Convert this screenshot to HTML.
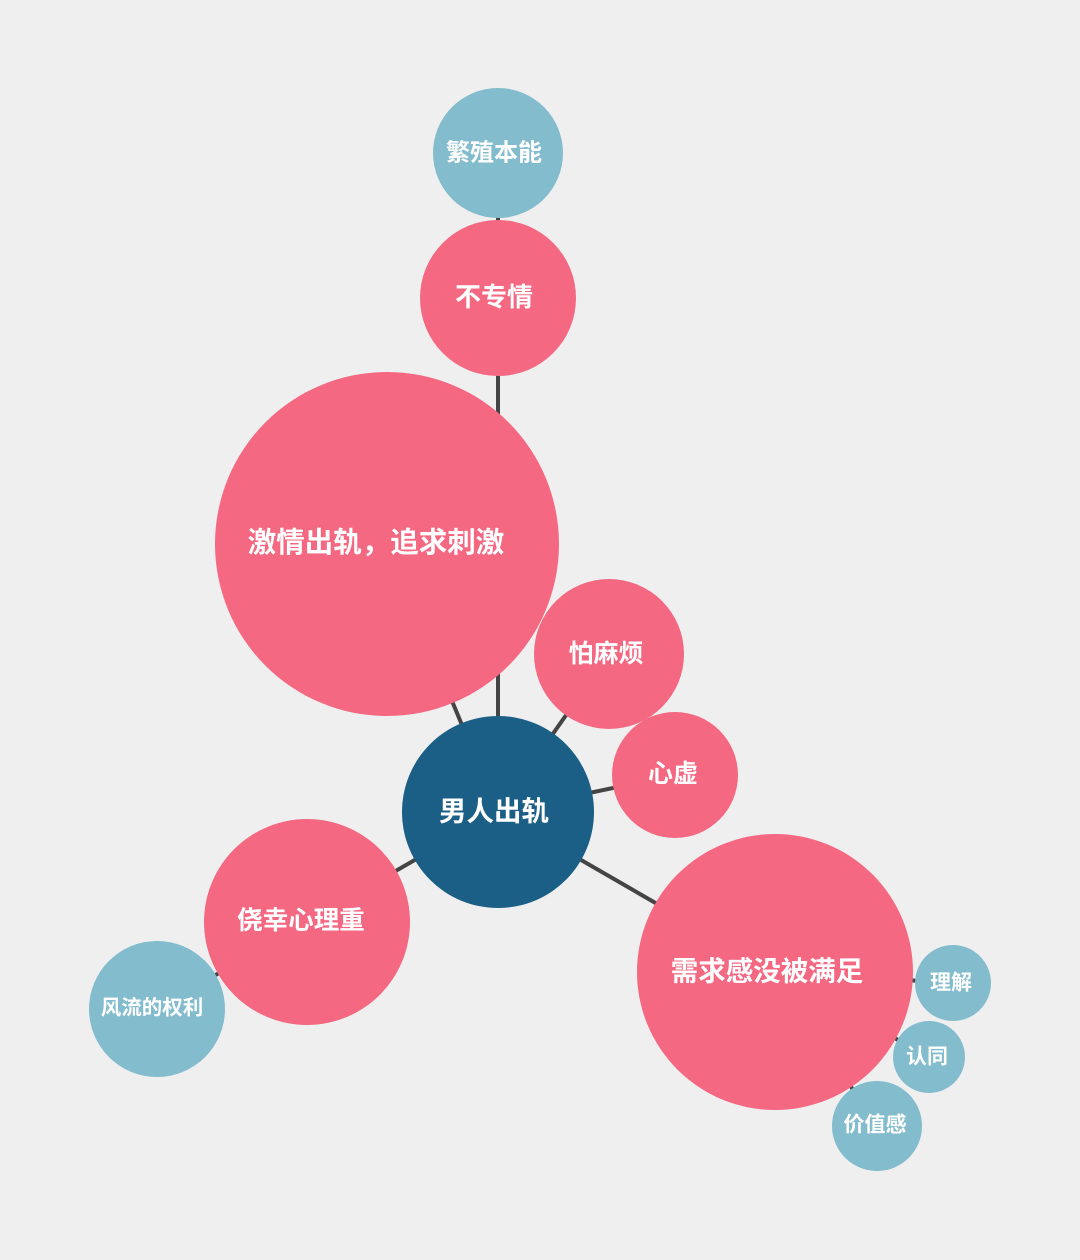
<!DOCTYPE html>
<html><head><meta charset="utf-8"><style>
html,body{margin:0;padding:0;background:#efefef;}
svg{display:block;}
text{font-family:"Liberation Sans","Noto Sans CJK SC",sans-serif;fill:#fff;font-weight:bold;text-anchor:middle;dominant-baseline:central;}
</style></head><body>
<svg width="1080" height="1260" viewBox="0 0 1080 1260">
<rect width="1080" height="1260" fill="#efefef"/>
<g stroke="#444" stroke-width="4">
<line x1="498" y1="812" x2="498" y2="298"/>
<line x1="498" y1="298" x2="498" y2="153"/>
<line x1="498" y1="812" x2="387" y2="544"/>
<line x1="498" y1="812" x2="609" y2="654"/>
<line x1="498" y1="812" x2="675" y2="775"/>
<line x1="498" y1="812" x2="307" y2="922"/>
<line x1="498" y1="812" x2="775" y2="972"/>
<line x1="307" y1="922" x2="157" y2="1009"/>
<line x1="775" y1="972" x2="953" y2="983"/>
<line x1="775" y1="972" x2="929" y2="1057"/>
<line x1="775" y1="972" x2="877" y2="1126"/>
</g>
<g fill="#82bccd">
<circle cx="498" cy="153" r="65"/>
<circle cx="157" cy="1009" r="68"/>
<circle cx="953" cy="983" r="38"/>
<circle cx="929" cy="1057" r="36"/>
<circle cx="877" cy="1126" r="45"/>
</g>
<g fill="#f46882">
<circle cx="498" cy="298" r="78"/>
<circle cx="387" cy="544" r="172"/>
<circle cx="609" cy="654" r="75"/>
<circle cx="675" cy="775" r="63"/>
<circle cx="307" cy="922" r="103"/>
<circle cx="775" cy="972" r="138"/>
</g>
<circle cx="498" cy="812" r="96" fill="#1b5f87"/>
<text x="494" y="153" font-size="24">繁殖本能</text>
<text x="494" y="297" font-size="26">不专情</text>
<text x="376" y="543" font-size="28.5">激情出轨，追求刺激</text>
<text x="606" y="654" font-size="25">怕麻烦</text>
<text x="673" y="774" font-size="25">心虚</text>
<text x="494" y="811" font-size="27.5">男人出轨</text>
<text x="301" y="921" font-size="25.5">侥幸心理重</text>
<text x="152" y="1008" font-size="20.5">风流的权利</text>
<text x="767" y="971" font-size="27.5">需求感没被满足</text>
<text x="951" y="983" font-size="21">理解</text>
<text x="927" y="1057" font-size="21">认同</text>
<text x="875" y="1125" font-size="21">价值感</text>
</svg>
</body></html>
